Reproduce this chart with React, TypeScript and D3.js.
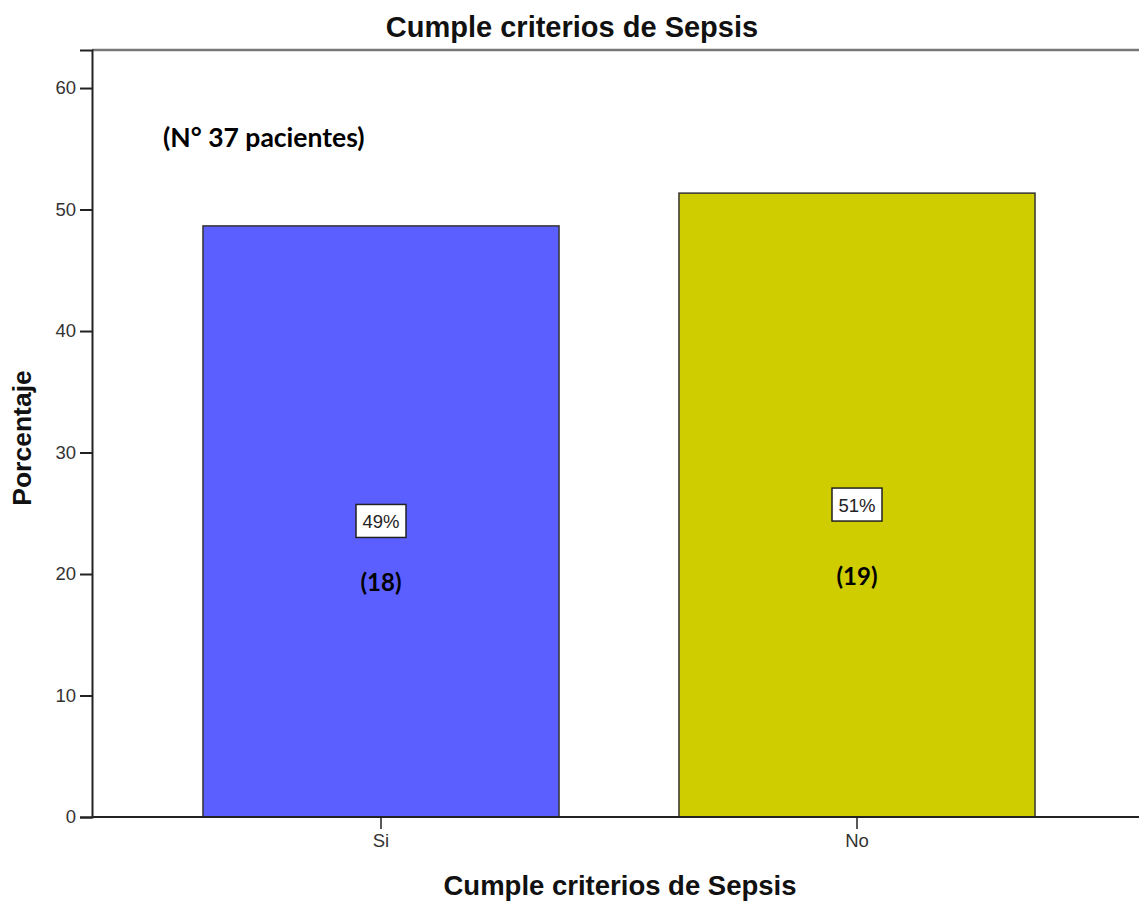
import React, { useEffect, useRef } from "react";
import * as d3 from "d3";

const categories = ["Si", "No"];
const percentages = [48.65, 51.35];
const percentLabels = ["49%", "51%"];
const countLabels = ["(18)", "(19)"];
const countLabelY = [19.3, 19.8];
const barColors = ["#5c5fff", "#cfcd00"];
const yTicks = [0, 10, 20, 30, 40, 50, 60];
const title = "Cumple criterios de Sepsis";
const xTitle = "Cumple criterios de Sepsis";
const yTitle = "Porcentaje";
const note = "(N° 37 pacientes)";

const W = 1139;
const H = 903;

export default function App() {
  const ref = useRef<SVGSVGElement | null>(null);

  useEffect(() => {
    const svg = d3.select(ref.current);
    svg.selectAll("*").remove();

    const left = 92;
    const bottom = 817;
    const top = 50;

    const y = d3.scaleLinear().domain([0, 63.13]).range([bottom, top]);
    const x = d3
      .scaleBand<string>()
      .domain(categories)
      .range([143, 1095])
      .paddingInner(0.252)
      .paddingOuter(0.126);

    svg.append("rect").attr("width", W).attr("height", H).attr("fill", "#fff");

    // frame top line
    svg
      .append("line")
      .attr("x1", left)
      .attr("x2", W)
      .attr("y1", top)
      .attr("y2", top)
      .attr("stroke", "#777")
      .attr("stroke-width", 2.5);

    // bars
    svg
      .selectAll("rect.bar")
      .data(categories)
      .enter()
      .append("rect")
      .attr("class", "bar")
      .attr("x", (d) => x(d)!)
      .attr("width", x.bandwidth())
      .attr("y", (_d, i) => y(percentages[i]))
      .attr("height", (_d, i) => bottom - y(percentages[i]))
      .attr("fill", (_d, i) => barColors[i])
      .attr("stroke", "#333")
      .attr("stroke-width", 1.5);

    // y axis
    const yAxis = svg
      .append("g")
      .attr("transform", `translate(${left},0)`)
      .call(
        d3
          .axisLeft(y)
          .tickValues(yTicks)
          .tickSize(12)
          .tickPadding(4)
          .tickFormat((d) => String(d))
      );
    yAxis.select(".domain").attr("stroke", "#222").attr("stroke-width", 2);
    yAxis.selectAll(".tick line").attr("stroke", "#222").attr("stroke-width", 2);
    yAxis
      .selectAll(".tick text")
      .attr("fill", "#333")
      .style("font-family", "'Liberation Sans', Arial, sans-serif")
      .style("font-size", "18.5px");

    // x axis
    const xAxis = svg
      .append("g")
      .attr("transform", `translate(0,${bottom})`)
      .call(d3.axisBottom(x).tickSize(12).tickPadding(5).tickSizeOuter(0));
    xAxis.select(".domain").remove();
    xAxis.selectAll(".tick line").attr("stroke", "#222").attr("stroke-width", 1.5);
    xAxis
      .selectAll(".tick text")
      .attr("fill", "#333")
      .style("font-family", "'Liberation Sans', Arial, sans-serif")
      .style("font-size", "18.5px");
    svg
      .append("line")
      .attr("x1", left)
      .attr("x2", W)
      .attr("y1", bottom)
      .attr("y2", bottom)
      .attr("stroke", "#222")
      .attr("stroke-width", 2);

    // percent labels
    categories.forEach((c, i) => {
      const cx = x(c)! + x.bandwidth() / 2;
      const cy = y(percentages[i] / 2);
      const g = svg.append("g");
      g.append("rect")
        .attr("x", cx - 25)
        .attr("y", cy - 17)
        .attr("width", 50)
        .attr("height", 33)
        .attr("fill", "#fff")
        .attr("stroke", "#222")
        .attr("stroke-width", 1.5);
      g.append("text")
        .attr("x", cx)
        .attr("y", cy)
        .attr("dy", "0.36em")
        .attr("text-anchor", "middle")
        .attr("fill", "#222")
        .style("font-family", "'Liberation Sans', Arial, sans-serif")
        .style("font-size", "18.5px")
        .text(percentLabels[i]);
      svg
        .append("text")
        .attr("x", cx)
        .attr("y", y(countLabelY[i]))
        .attr("dy", "0.36em")
        .attr("text-anchor", "middle")
        .attr("fill", "#000")
        .style("font-family", "Lato, 'Open Sans', sans-serif")
        .style("font-weight", "bold")
        .style("font-size", "24px")
        .text(countLabels[i]);
    });

    // note
    svg
      .append("text")
      .attr("x", 163)
      .attr("y", 137)
      .attr("dy", "0.36em")
      .attr("fill", "#000")
      .style("font-family", "Lato, 'Open Sans', sans-serif")
      .style("font-weight", "bold")
      .style("font-size", "26.5px")
      .text(note);

    // titles
    svg
      .append("text")
      .attr("x", 572)
      .attr("y", 37)
      .attr("text-anchor", "middle")
      .attr("fill", "#111")
      .style("font-family", "'Liberation Sans', Arial, sans-serif")
      .style("font-weight", "bold")
      .style("font-size", "29px")
      .text(title);

    svg
      .append("text")
      .attr("x", 620)
      .attr("y", 895)
      .attr("text-anchor", "middle")
      .attr("fill", "#111")
      .style("font-family", "'Liberation Sans', Arial, sans-serif")
      .style("font-weight", "bold")
      .style("font-size", "27.5px")
      .text(xTitle);

    svg
      .append("text")
      .attr("transform", `translate(31,438) rotate(-90)`)
      .attr("text-anchor", "middle")
      .attr("fill", "#111")
      .style("font-family", "'Liberation Sans', Arial, sans-serif")
      .style("font-weight", "bold")
      .style("font-size", "26.5px")
      .text(yTitle);
  }, []);

  return (
    <svg
      ref={ref}
      width={W}
      height={H}
      style={{ position: "absolute", left: 0, top: 0, display: "block" }}
    />
  );
}
